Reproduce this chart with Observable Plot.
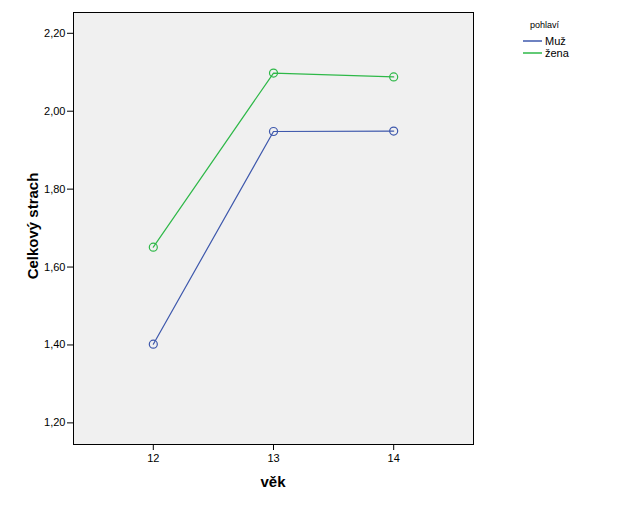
<!DOCTYPE html>
<html>
<head>
<meta charset="utf-8">
<script src="https://cdn.jsdelivr.net/npm/d3@7"></script>
<script src="https://cdn.jsdelivr.net/npm/@observablehq/plot@0.6"></script>
<style>
  html, body { margin: 0; padding: 0; background: #fff; }
  #chart { position: relative; width: 631px; height: 506px; }
</style>
</head>
<body>
<div id="chart"></div>
<script>
const ages = [12, 13, 14];
const groups = ["Muž", "žena"];
const muz = [1.402, 1.948, 1.949];
const zena = [1.651, 2.098, 2.088];
const yTicks = [1.2, 1.4, 1.6, 1.8, 2.0, 2.2];
const colors = ["#3e58ac", "#2eb848"];

const data = [];
ages.forEach((a, i) => {
  data.push({age: a, value: muz[i], group: groups[0]});
  data.push({age: a, value: zena[i], group: groups[1]});
});

const fmt = d => d3.format(".2f")(d).replace(".", ",");

const plot = Plot.plot({
  width: 631,
  height: 506,
  marginLeft: 73,
  marginTop: 12,
  marginRight: 158,
  marginBottom: 62,
  style: {fontFamily: "'Liberation Sans', Arial, sans-serif", fontSize: "11px", color: "#000", background: "#fff"},
  x: {domain: [11.336, 14.664], ticks: ages, tickFormat: d => String(d), tickSize: 6, label: null},
  y: {domain: [1.1445, 2.2534], ticks: yTicks, tickFormat: fmt, tickSize: 6, label: null},
  color: {domain: groups, range: colors},
  marks: [
    Plot.rect([0], {x1: 11.336, x2: 14.664, y1: 1.1445, y2: 2.2534, fill: "#f0f0f0"}),
    Plot.frame({stroke: "#000", strokeWidth: 1}),
    Plot.axisX({ticks: ages, tickFormat: d => String(d), tickSize: 6, tickPadding: 4, label: null}),
    Plot.axisY({ticks: yTicks, tickFormat: fmt, tickSize: 6, tickPadding: 2, label: null}),
    Plot.line(data, {x: "age", y: "value", stroke: "group", strokeWidth: 1.2}),
    Plot.dot(data, {x: "age", y: "value", stroke: "group", r: 4, fill: "none", strokeWidth: 1.2})
  ]
});

document.getElementById("chart").appendChild(plot);

const svg = d3.select(plot);
// axis titles
svg.append("text")
  .attr("x", 273).attr("y", 487)
  .attr("text-anchor", "middle")
  .attr("font-weight", "bold")
  .attr("font-size", 15)
  .attr("font-family", "'Liberation Sans', Arial, sans-serif")
  .text("věk");
svg.append("text")
  .attr("transform", "translate(38,226) rotate(-90)")
  .attr("text-anchor", "middle")
  .attr("font-weight", "bold")
  .attr("font-size", 15)
  .attr("font-family", "'Liberation Sans', Arial, sans-serif")
  .text("Celkový strach");

// legend
const lg = svg.append("g")
  .attr("font-family", "'Liberation Sans', Arial, sans-serif")
  .attr("text-anchor", "start");
lg.append("text").attr("x", 530).attr("y", 28).attr("font-size", 9).attr("text-anchor", "start").text("pohlaví");
groups.forEach((g, i) => {
  const y = 41 + i * 12;
  lg.append("line").attr("x1", 523).attr("x2", 542).attr("y1", y).attr("y2", y)
    .attr("stroke", colors[i]).attr("stroke-width", 1.5);
  lg.append("text").attr("x", 545).attr("y", y + 4).attr("font-size", 11).attr("text-anchor", "start").text(g);
});
</script>
</body>
</html>
